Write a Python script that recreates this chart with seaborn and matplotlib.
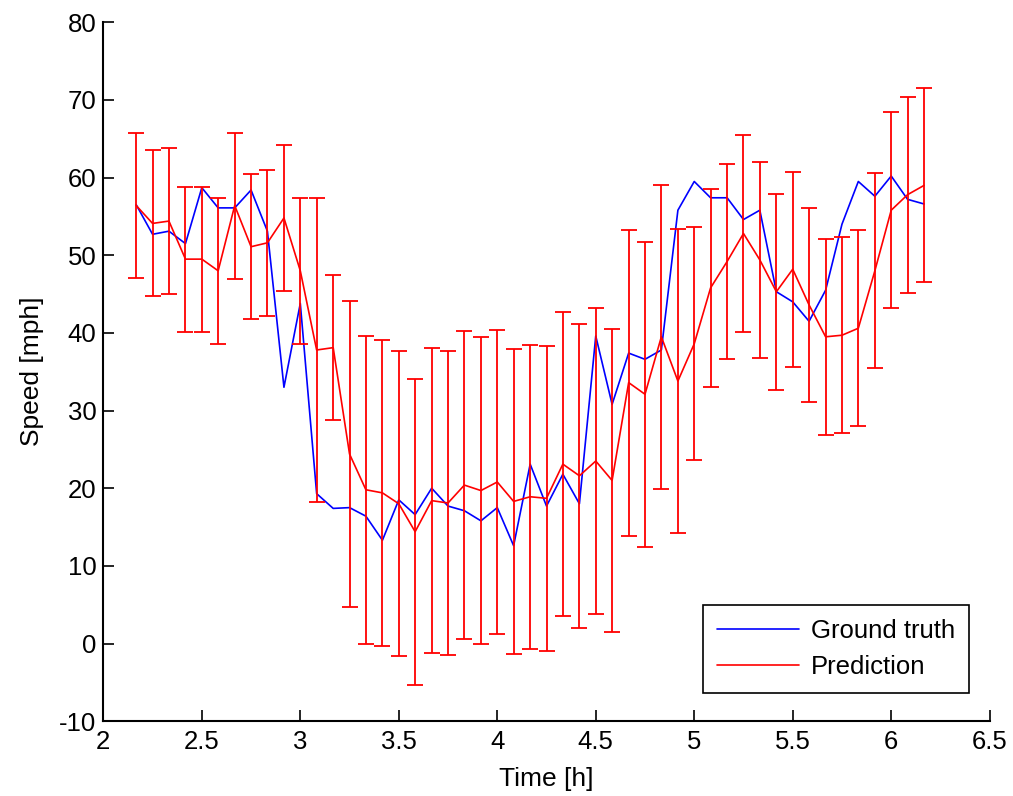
import numpy as np
import pandas as pd
import seaborn as sns
import matplotlib.pyplot as plt

# time stamps every 5 minutes, in hours
time_h = [2.167, 2.250, 2.333, 2.417, 2.500, 2.583, 2.667, 2.750, 2.833, 2.917,
          3.000, 3.083, 3.167, 3.250, 3.333, 3.417, 3.500, 3.583, 3.667, 3.750,
          3.833, 3.917, 4.000, 4.083, 4.167, 4.250, 4.333, 4.417, 4.500, 4.583,
          4.667, 4.750, 4.833, 4.917, 5.000, 5.083, 5.167, 5.250, 5.333, 5.417,
          5.500, 5.583, 5.667, 5.750, 5.833, 5.917, 6.000, 6.083, 6.167]

ground_truth = [56.5, 52.7, 53.1, 51.5, 58.7, 56.1, 56.1, 58.4, 53.1, 33.0,
                43.8, 19.3, 17.4, 17.5, 16.4, 13.3, 18.5, 16.6, 20.0, 17.7,
                17.1, 15.8, 17.5, 12.6, 23.1, 17.7, 21.8, 18.0, 39.6, 30.8,
                37.4, 36.6, 37.8, 55.8, 59.5, 57.4, 57.4, 54.6, 55.8, 45.3,
                44.0, 41.5, 45.5, 54.0, 59.5, 57.6, 60.2, 57.2, 56.6]

prediction = [56.4, 54.1, 54.4, 49.5, 49.5, 48.0, 56.4, 51.1, 51.6, 54.8,
              48.0, 37.8, 38.1, 24.4, 19.8, 19.4, 18.0, 14.4, 18.4, 18.1,
              20.4, 19.7, 20.8, 18.3, 18.9, 18.7, 23.1, 21.6, 23.5, 21.0,
              33.6, 32.1, 39.5, 33.8, 38.6, 45.8, 49.2, 52.8, 49.4, 45.3,
              48.2, 43.6, 39.5, 39.7, 40.6, 48.0, 55.8, 57.8, 59.0]

# half width of the prediction interval
pred_err = [9.3, 9.4, 9.35, 9.35, 9.35, 9.4, 9.4, 9.35, 9.4, 9.4,
            9.4, 19.6, 9.35, 19.75, 19.85, 19.7, 19.65, 19.7, 19.6, 19.6,
            19.85, 19.75, 19.55, 19.6, 19.6, 19.6, 19.6, 19.6, 19.7, 19.55,
            19.7, 19.65, 19.6, 19.6, 15.0, 12.75, 12.5, 12.65, 12.65, 12.65,
            12.55, 12.5, 12.65, 12.65, 12.6, 12.55, 12.6, 12.6, 12.5]

df = pd.DataFrame({'time': time_h, 'truth': ground_truth,
                   'pred': prediction, 'err': pred_err})

sns.set_style('ticks')
plt.rcParams['font.family'] = ['Liberation Sans', 'DejaVu Sans']
plt.rcParams['axes.unicode_minus'] = False
plt.rcParams['text.color'] = 'black'
plt.rcParams['axes.labelcolor'] = 'black'

fig = plt.figure(figsize=(10.13, 7.96), dpi=100)
ax = fig.add_axes([0.102, 0.094, 0.875, 0.878])

sns.lineplot(data=df, x='time', y='truth', color='#0000ff', lw=1.2,
             label='Ground truth', ax=ax)
sns.lineplot(data=df, x='time', y='pred', color='#ff0000', lw=1.2,
             label='Prediction', ax=ax)
ax.errorbar(df['time'], df['pred'], yerr=df['err'], fmt='none',
            ecolor='#ff0000', elinewidth=1.3, capsize=5.5, capthick=1.3)

ax.set_xlim(2, 6.5)
ax.set_ylim(-10, 80)
ax.set_xticks([2, 2.5, 3, 3.5, 4, 4.5, 5, 5.5, 6, 6.5])
ax.set_xticklabels(['2', '2.5', '3', '3.5', '4', '4.5', '5', '5.5', '6', '6.5'])
ax.set_yticks(range(-10, 81, 10))
ax.tick_params(direction='in', length=8, width=1.2, labelsize=18.5,
               colors='black')
ax.tick_params(axis='y', pad=5)
ax.tick_params(axis='x', pad=6)
for side in ['top', 'right']:
    ax.spines[side].set_visible(False)
for side in ['left', 'bottom']:
    ax.spines[side].set_linewidth(1.5)
    ax.spines[side].set_color('black')

ax.set_xlabel('Time [h]', fontsize=19, labelpad=10)
ax.set_ylabel('Speed [mph]', fontsize=19, labelpad=11)

leg = ax.legend(loc='lower right', fontsize=18.5, frameon=True, fancybox=False,
                edgecolor='black', handlelength=3.2, handletextpad=0.45,
                borderpad=0.55, labelspacing=0.45, borderaxespad=0,
                bbox_to_anchor=(0.977, 0.0405))
leg.get_frame().set_linewidth(1.2)
leg.get_frame().set_alpha(1)

fig.savefig('out.png', dpi=100)
